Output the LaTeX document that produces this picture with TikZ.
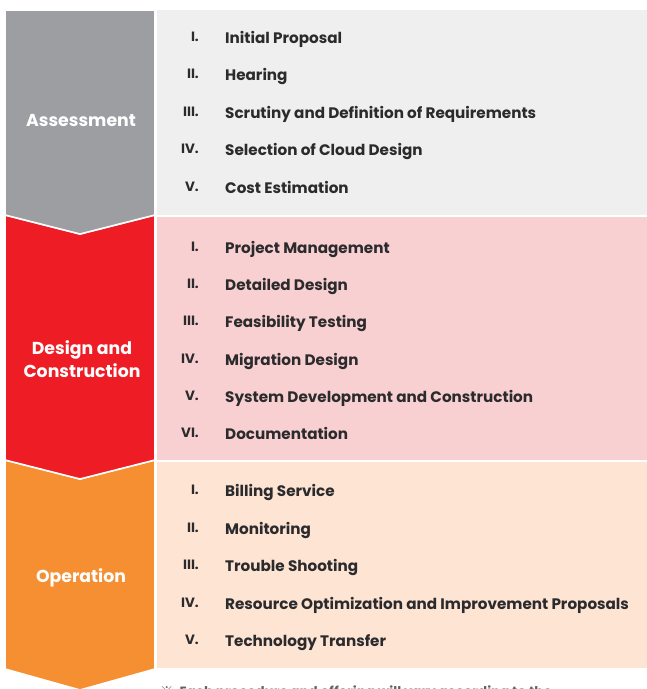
\documentclass[tikz,border=0pt]{standalone}
\usepackage{fontspec}
\setmainfont{Poppins}
\newfontfamily\symfont{Noto Sans CJK JP}
\definecolor{cgrey}{HTML}{9D9EA2}
\definecolor{cred}{HTML}{EE1D25}
\definecolor{corange}{HTML}{F68F31}
\definecolor{pgrey}{HTML}{EEEFEE}
\definecolor{ppink}{HTML}{F9D0D1}
\definecolor{ppeach}{HTML}{FDE4D3}
\definecolor{ctext}{HTML}{2B2A2C}
\begin{document}
\begin{tikzpicture}[x=1pt,y=-1pt,
  chev/.style={draw=white,line width=1.6pt,line join=miter},
  num/.style={anchor=base east,inner sep=0pt,text=ctext,font=\bfseries\fontsize{13.5}{15}\selectfont},
  item/.style={anchor=base west,inner sep=0pt,text=ctext,font=\bfseries\fontsize{15.2}{17}\selectfont},
  lab/.style={text=white,align=center,font=\bfseries\fontsize{17.3}{23}\selectfont,inner sep=0pt}]
\useasboundingbox (0,0) rectangle (647,689);
\clip (0,0) rectangle (647,689);
% panels
\fill[pgrey] (157,10) rectangle (647,215);
\fill[ppink] (157,217) rectangle (647,460);
\fill[ppeach] (157,462) rectangle (647,668);
% chevrons
\path[chev,fill=corange] (5,460) -- (80,479) -- (155,460) -- (155,669) -- (80,690) -- (5,669) -- cycle;
\path[chev,fill=cred] (5,215) -- (80,234) -- (155,215) -- (155,460) -- (80,479) -- (5,460) -- cycle;
\path[chev,fill=cgrey] (5,10) -- (155,10) -- (155,215) -- (80,234) -- (5,215) -- cycle;
% labels
\node[lab] (la) at (81,120) {Assessment};
\node[lab] (ld) at (82,359) {Design and\\Construction};
\node[lab] (lo) at (81,578) {Operation};
% items
\foreach \n/\r/\t [count=\i] in {I./38/Initial Proposal, II./75/Hearing, III./113/Scrutiny and Definition of Requirements, IV./150/Selection of Cloud Design, V./188/Cost Estimation,
  I./248/Project Management, II./285/Detailed Design, III./322/Feasibility Testing, IV./360/Migration Design, V./397/System Development and Construction, VI./434/Documentation,
  I./491/Billing Service, II./529/Monitoring, III./566/Trouble Shooting, IV./604/Resource Optimization and Improvement Proposals, V./641/Technology Transfer}{
  \node[num] (n\i) at (199,\r+3) {\n};
  \node[item] (t\i) at (225,\r+5.5) {\t};
}
\node[anchor=base west,inner sep=0pt,text=ctext!75,font=\bfseries\fontsize{13.4}{15}\selectfont] (foot) at (160,696) {{\symfont\mdseries ※}\hspace{6pt}Each procedure and offering will vary according to the};
\end{tikzpicture}
\end{document}
